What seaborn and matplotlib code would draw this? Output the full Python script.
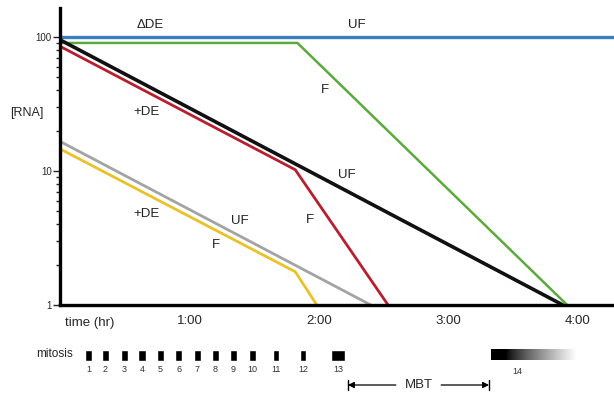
import numpy as np
import pandas as pd
import matplotlib
matplotlib.use("Agg")
import matplotlib.pyplot as plt
import seaborn as sns
from matplotlib.ticker import FixedLocator, LogLocator, NullFormatter

sns.set_theme(style="white")
plt.rcParams['font.family'] = ['Liberation Sans', 'DejaVu Sans']

# ---- data (time in minutes, RNA relative level) ----
blue_t = [0, 260];        blue_v = [100, 100]          # ΔDE UF
green_t = [0, 110, 235];  green_v = [90, 90, 1]         # ΔDE F
black_t = [0, 233];       black_v = [95, 1]             # +DE UF (maternal)
red_t = [0, 109, 152];    red_v = [85, 10.2, 1]         # +DE F (maternal)
gray_t = [0, 144];        gray_v = [16.6, 1]            # +DE UF (low)
yellow_t = [0, 109, 119]; yellow_v = [14.6, 1.77, 1]    # +DE F (low)

series = {
    "blue": (blue_t, blue_v),
    "green": (green_t, green_v),
    "black": (black_t, black_v),
    "red": (red_t, red_v),
    "gray": (gray_t, gray_v),
    "yellow": (yellow_t, yellow_v),
}
colors = {"blue": "#3a7fc0", "green": "#5aab3c", "black": "#111111",
          "red": "#b81e2d", "gray": "#a3a3a3", "yellow": "#e9c22a"}
widths = {"blue": 2.4, "green": 1.8, "black": 2.6, "red": 2.0, "gray": 2.0, "yellow": 2.0}

mitosis_num = list(range(1, 14))
mitosis_t = [13.4, 21.0, 29.8, 38.0, 46.5, 55.0, 63.7, 72.0, 80.3, 89.0, 100.0, 112.6, 128.8]
mitosis_w = [3.3, 3.2, 3.0, 3.3, 3.2, 3.2, 2.9, 3.2, 3.0, 3.3, 2.9, 3.2, 6.2]
cycle14_start, cycle14_end = 199.7, 239.5
mbt_start, mbt_end = 133.4, 198.8

xticks = [60, 120, 180, 240]
xticklabels = ["1:00", "2:00", "3:00", "4:00"]
yticks = [1, 10, 100]
yticklabels = ["1", "10", "100"]

rows = []
for name, (t, v) in series.items():
    for ti, vi in zip(t, v):
        rows.append({"series": name, "time": ti, "rna": vi})
df = pd.DataFrame(rows)

W, H = 614, 393
fig = plt.figure(figsize=(W / 100, H / 100), dpi=100)
ax = fig.add_axes([60 / W, (H - 305) / H, (W - 60) / W, (305 - 8) / H])

order = ["gray", "yellow", "red", "green", "black", "blue"]
for name in order:
    sub = df[df.series == name]
    sns.lineplot(data=sub, x="time", y="rna", ax=ax, color=colors[name],
                 linewidth=widths[name], sort=False, estimator=None,
                 legend=False, solid_capstyle="butt")

ax.set_yscale("log")
ax.set_ylim(1, 164)
ax.set_xlim(0, (W - 60) / 129.5 * 60)
ax.set_xlabel("")
ax.set_ylabel("")

for s in ["top", "right"]:
    ax.spines[s].set_visible(False)
for s in ["left", "bottom"]:
    ax.spines[s].set_linewidth(2.4)
    ax.spines[s].set_color("black")
    ax.spines[s].set_zorder(5)

ax.set_xticks(xticks)
ax.set_xticklabels(xticklabels, fontsize=9.5)
ax.tick_params(axis="x", direction="inout", length=10, width=1, pad=2, color="black")
ax.yaxis.set_major_locator(FixedLocator(yticks))
ax.set_yticklabels(yticklabels, fontsize=7)
ax.yaxis.set_minor_locator(LogLocator(base=10, subs=np.arange(2, 10)))
ax.yaxis.set_minor_formatter(NullFormatter())
ax.tick_params(axis="y", which="major", direction="out", length=5, width=1, pad=1, left=True)
ax.tick_params(axis="y", which="minor", direction="out", length=3, width=1, left=True)
ax.grid(False)

lab_fs = 9.5
for txt, x, y in [("ΔDE", 150, 25), ("UF", 357, 25), ("F", 325, 90), ("+DE", 146, 112),
                  ("UF", 347, 175), ("+DE", 146, 214), ("UF", 240, 221), ("F", 216, 245),
                  ("F", 310, 220)]:
    fig.text(x / W, 1 - y / H, txt, fontsize=lab_fs, ha="center", va="center", color="#222222")

fig.text(27 / W, 1 - 113 / H, "[RNA]", fontsize=9, ha="center", va="center")
fig.text(65 / W, 1 - 323 / H, "time (hr)", fontsize=9.5, ha="left", va="center")
fig.text(73 / W, 1 - 354 / H, "mitosis", fontsize=8.5, ha="right", va="center")

# ---- mitosis strip ----
ax2 = fig.add_axes([60 / W, 0, (W - 60) / W, (H - 335) / H])
ax2.axis("off")
ax2.broken_barh([(t - w / 2, w) for t, w in zip(mitosis_t, mitosis_w)], (14.5, 11),
                facecolors="black")
for n, t in zip(mitosis_num, mitosis_t):
    ax2.text(t, 35, str(n), fontsize=6.5, ha="center", va="center", color="#333333")

grad = np.concatenate([np.zeros(12), np.linspace(0, 1, 60) ** 0.8])[None, :]
ax2.imshow(grad, cmap="gray", vmin=0, vmax=1, aspect="auto",
           extent=[cycle14_start, cycle14_end, 25.5, 14.5], interpolation="bilinear", zorder=2)
ax2.set_xlim(ax.get_xlim())
ax2.set_ylim(58, 0)
ax2.text(cycle14_start + 12, 36, "14", fontsize=6.5, ha="center", va="center", color="#333333")

mid = (mbt_start + mbt_end) / 2
ax2.text(mid, 50, "MBT", fontsize=9.5, ha="center", va="center")
ax2.annotate("", xy=(mbt_start, 50), xytext=(mid - 10.5, 50),
             arrowprops=dict(arrowstyle="-|>", color="black", lw=0.9, mutation_scale=9,
                             shrinkA=0, shrinkB=0))
ax2.annotate("", xy=(mbt_end, 50), xytext=(mid + 10.5, 50),
             arrowprops=dict(arrowstyle="-|>", color="black", lw=0.9, mutation_scale=9,
                             shrinkA=0, shrinkB=0))
ax2.plot([mbt_start, mbt_start], [45, 55], color="black", lw=1)
ax2.plot([mbt_end, mbt_end], [45, 55], color="black", lw=1)

fig.savefig("out.png", dpi=100)
